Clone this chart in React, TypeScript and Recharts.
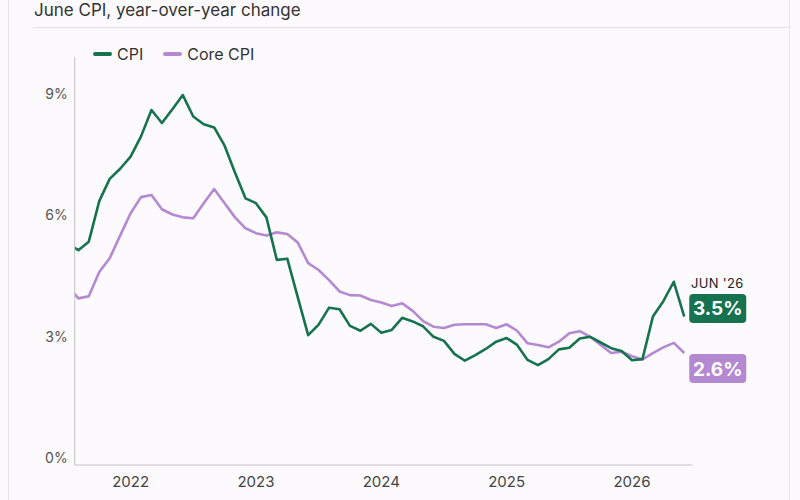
import { LineChart, Line, XAxis, YAxis, LabelList } from 'recharts'

// Monthly YoY % change, Jul 2021 through Jun 2026
const cpi = [
  5.3, 5.14, 5.35, 6.35, 6.9, 7.15,
  7.45, 7.95, 8.6, 8.28, 8.62, 8.97, 8.44, 8.25, 8.17, 7.72, 7.05, 6.42,
  6.3, 5.95, 4.9, 4.93, 3.98, 3.04, 3.3, 3.72, 3.68, 3.27, 3.15, 3.32,
  3.1, 3.17, 3.47, 3.38, 3.26, 3.0, 2.9, 2.58, 2.41, 2.55, 2.7, 2.88,
  2.97, 2.8, 2.43, 2.3, 2.45, 2.69, 2.73, 2.96, 3.0, 2.86, 2.72, 2.65,
  2.42, 2.45, 3.5, 3.88, 4.36, 3.5,
]
const coreCpi = [
  4.25, 3.95, 4.0, 4.6, 4.94, 5.5,
  6.05, 6.45, 6.5, 6.15, 6.02, 5.95, 5.93, 6.3, 6.65, 6.3, 5.95, 5.68,
  5.56, 5.5, 5.58, 5.54, 5.33, 4.82, 4.65, 4.4, 4.12, 4.03, 4.02, 3.91,
  3.85, 3.76, 3.83, 3.64, 3.39, 3.25, 3.22, 3.3, 3.31, 3.31, 3.31, 3.22,
  3.31, 3.15, 2.84, 2.8, 2.74, 2.88, 3.09, 3.14, 3.0, 2.8, 2.6, 2.63,
  2.52, 2.44, 2.6, 2.74, 2.85, 2.6,
]
const firstMonth = -6 // Jul 2021, counted in months from Jan 2022
const yearTicks = [2022, 2023, 2024, 2025, 2026]
const pctTicks = [0, 3, 6, 9]
const lastLabel = "JUN '26"

const GREEN = '#17724f'
const PURPLE = '#b489d2'
const FONT = 'Inter, "Noto Sans", sans-serif'

const data = cpi.map((v, i) => ({ t: firstMonth + i, cpi: v, core: coreCpi[i] }))
const lastIdx = data.length - 1

function Tag({ x, y, value, fill, dy, caption }: any) {
  const bx = x + 5
  const by = y + dy
  return (
    <g>
      {caption && (
        <text x={bx + 28} y={by - 11} textAnchor="middle" dominantBaseline="central"
          fontSize={13} fill="#222" fontFamily={FONT} letterSpacing={0.3}>
          {caption}
        </text>
      )}
      <rect x={bx} y={by} width={57} height={29} rx={4} fill={fill} />
      <text x={bx + 28.5} y={by + 15} textAnchor="middle" dominantBaseline="central"
        fontSize={19} fontWeight={700} fill="#fff" fontFamily={FONT}>
        {value.toFixed(1)}%
      </text>
    </g>
  )
}

export default function App() {
  return (
    <div style={{ position: 'absolute', left: 0, top: 0, width: 800, height: 500, background: '#fcfafc', fontFamily: FONT, overflow: 'hidden' }}>
      <div style={{ position: 'absolute', left: 8, top: 0, width: 780, height: 500, borderLeft: '1px solid #e6e4e8', borderRight: '1px solid #e6e4e8' }} />
      <div style={{ position: 'absolute', left: 34, top: 0, fontSize: 17, lineHeight: '20px', color: '#333' }}>
        June CPI, year-over-year change
      </div>
      <div style={{ position: 'absolute', left: 33, top: 27, width: 757, height: 1, background: '#e3e1e5' }} />
      <div style={{ position: 'absolute', left: 93, top: 44, display: 'flex', alignItems: 'center', fontSize: 16, color: '#333', lineHeight: '20px' }}>
        <span style={{ width: 19, height: 4, borderRadius: 2, background: GREEN, marginRight: 5 }} />
        <span style={{ marginRight: 20 }}>CPI</span>
        <span style={{ width: 19, height: 4, borderRadius: 2, background: PURPLE, marginRight: 5 }} />
        <span>Core CPI</span>
      </div>
      <div style={{ position: 'absolute', left: 0, top: 0 }}>
        <LineChart width={800} height={500} data={data} margin={{ top: 57, right: 107.4, bottom: 0, left: 14.7 }}>
          <XAxis
            type="number"
            dataKey="t"
            domain={[-5.35, 53.8]}
            allowDataOverflow
            ticks={yearTicks.map(y => (y - 2022) * 12)}
            tickFormatter={t => String(2022 + t / 12)}
            height={35}
            tickLine={false}
            tickSize={0}
            tickMargin={11}
            stroke="#c4c2c6"
            tick={{ fill: '#444', fontSize: 15 }}
          />
          <YAxis
            type="number"
            domain={[-0.165, 9.91]}
            ticks={pctTicks}
            tickFormatter={v => `${v}%`}
            width={60}
            tickLine={false}
            tickSize={0}
            tickMargin={7}
            stroke="#c4c2c6"
            tick={{ fill: '#555', fontSize: 14 }}
          />
          <Line type="linear" dataKey="core" stroke={PURPLE} strokeWidth={2.6} dot={false} isAnimationActive={false} strokeLinejoin="round">
            <LabelList dataKey="core" content={(p: any) => p.index === lastIdx ? <Tag {...p} fill={PURPLE} dy={1} /> : null} />
          </Line>
          <Line type="linear" dataKey="cpi" stroke={GREEN} strokeWidth={2.6} dot={false} isAnimationActive={false} strokeLinejoin="round">
            <LabelList dataKey="cpi" content={(p: any) => p.index === lastIdx ? <Tag {...p} fill={GREEN} dy={-22.6} caption={lastLabel} /> : null} />
          </Line>
        </LineChart>
      </div>
    </div>
  )
}
